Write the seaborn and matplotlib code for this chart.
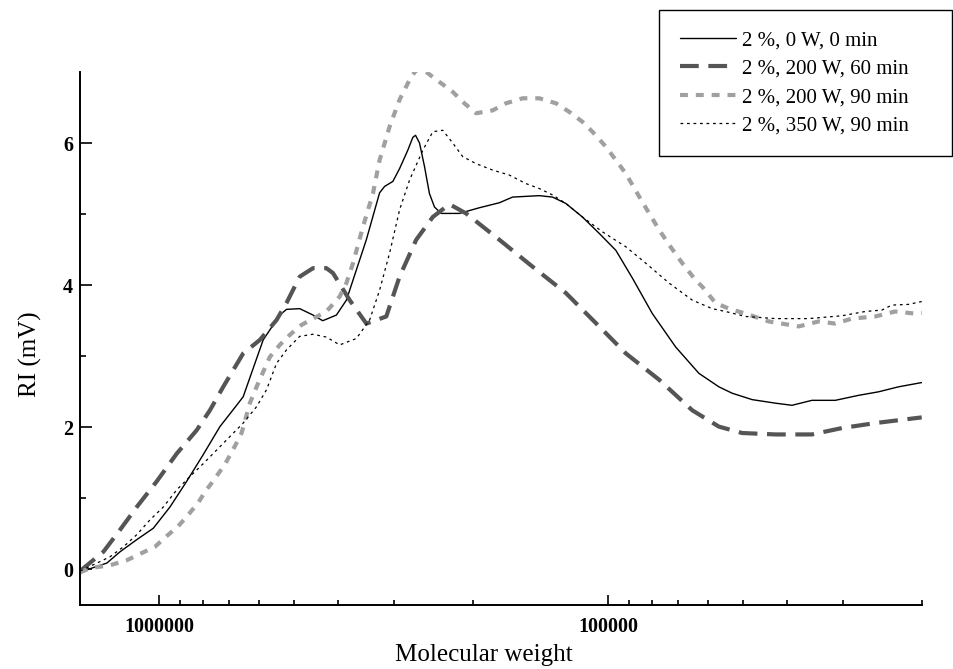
import numpy as np
import pandas as pd
import matplotlib
matplotlib.use("Agg")
import matplotlib.pyplot as plt
from matplotlib.ticker import FixedLocator, FixedFormatter, NullFormatter
import seaborn as sns

# ---------------- data ----------------
labels = ["2 %, 0 W, 0 min", "2 %, 200 W, 60 min", "2 %, 200 W, 90 min", "2 %, 350 W, 90 min"]

mw_0w = [1498000, 1473000, 1307000, 1221000, 1121000, 1030000, 945500, 868000, 798500, 732000,
         672000, 649700, 586400, 538400, 520300, 486200, 454100, 432100, 402800, 382700,
         376300, 345500, 322800, 314600, 301600, 291400, 279300, 272200, 268500, 263000,
         256400, 250000, 243600, 235400, 214400, 193500, 174700, 163200, 142300, 133000,
         124200, 114100, 104700, 96100, 88300, 79700, 70720, 62790, 56670, 52940,
         47790, 42400, 38950, 35160, 31190, 27690, 24990, 22560, 20030]
ri_0w = [-0.02, -0.02, 0.09, 0.25, 0.42, 0.58, 0.88, 1.24, 1.61, 2.01,
         2.31, 2.43, 3.23, 3.58, 3.66, 3.67, 3.58, 3.50, 3.58, 3.79,
         3.93, 4.64, 5.30, 5.39, 5.46, 5.64, 5.90, 6.08, 6.11, 6.00,
         5.67, 5.29, 5.10, 5.01, 5.01, 5.09, 5.16, 5.24, 5.26, 5.24,
         5.15, 4.96, 4.73, 4.49, 4.10, 3.60, 3.13, 2.76, 2.57, 2.48,
         2.39, 2.34, 2.31, 2.38, 2.38, 2.45, 2.50, 2.57, 2.63]

mw_200w60 = [1498000, 1330000, 1221000, 1121000, 1012000, 913500, 824500, 770500, 719700, 649700,
             596400, 547600, 520300, 486200, 454100, 424000, 409900, 376300, 345500, 311900,
             291400, 267500, 245700, 225600, 207200, 174700, 147300, 124200, 104700, 91300,
             77000, 64960, 56670, 50300, 42400, 35160, 30150, 25420, 20030]
ri_200w60 = [-0.02, 0.25, 0.56, 0.88, 1.24, 1.63, 1.96, 2.24, 2.57, 3.04,
             3.23, 3.51, 3.75, 4.12, 4.24, 4.24, 4.17, 3.79, 3.46, 3.56,
             4.12, 4.64, 4.96, 5.14, 5.01, 4.64, 4.26, 3.89, 3.42, 3.04,
             2.67, 2.24, 2.01, 1.92, 1.90, 1.90, 1.99, 2.06, 2.14]

mw_200w90 = [1498000, 1423000, 1285000, 1180000, 1102000, 1021000, 961500, 906000, 861000, 818000,
             790500, 751000, 713500, 683800, 655000, 627800, 606600, 586400, 566700, 538400,
             511700, 482000, 454100, 424000, 396100, 382700, 369900, 351600, 334000, 322800,
             306700, 291400, 276800, 267500, 254100, 237500, 221800, 210800, 196800, 180800,
             168800, 155000, 142300, 130700, 122100, 114100, 108400, 101200, 96100, 91300,
             83900, 77000, 73170, 68370, 63840, 61730, 57650, 53840, 49430, 43870,
             37640, 33980, 31190, 28650, 25420, 22950, 20720, 20030]
ri_200w90 = [-0.04, 0.02, 0.06, 0.13, 0.22, 0.32, 0.47, 0.61, 0.77, 0.94,
             1.09, 1.28, 1.48, 1.69, 1.92, 2.34, 2.57, 2.78, 2.99, 3.16,
             3.30, 3.44, 3.53, 3.63, 3.84, 4.03, 4.31, 4.82, 5.29, 5.76,
             6.23, 6.61, 6.89, 7.03, 7.00, 6.86, 6.72, 6.58, 6.42, 6.46,
             6.56, 6.63, 6.63, 6.56, 6.44, 6.30, 6.16, 5.95, 5.76, 5.57,
             5.17, 4.78, 4.57, 4.31, 4.07, 3.98, 3.75, 3.67, 3.60, 3.49,
             3.42, 3.49, 3.46, 3.53, 3.56, 3.63, 3.60, 3.61]

mw_350w90 = [1498000, 1375000, 1285000, 1200000, 1121000, 1047000, 978000, 913500, 853000, 797000,
             744600, 695500, 649700, 606600, 576300, 547600, 520300, 486200, 454100, 424000,
             396100, 363600, 339700, 322800, 306700, 291400, 276800, 258600, 245700, 233500,
             221800, 210800, 196800, 180800, 166000, 152400, 142300, 133000, 124200, 114100,
             102900, 91300, 82450, 73170, 64960, 58650, 54760, 49430, 42400, 35750,
             30150, 26760, 24570, 23350, 21440, 20030]
ri_350w90 = [-0.02, 0.09, 0.18, 0.32, 0.49, 0.70, 0.88, 1.12, 1.31, 1.49,
             1.68, 1.87, 2.06, 2.29, 2.53, 2.90, 3.09, 3.28, 3.31, 3.27,
             3.16, 3.25, 3.51, 3.93, 4.45, 5.06, 5.48, 5.90, 6.16, 6.18,
             6.00, 5.81, 5.71, 5.62, 5.55, 5.43, 5.36, 5.27, 5.15, 4.96,
             4.75, 4.54, 4.31, 4.03, 3.79, 3.67, 3.63, 3.56, 3.53, 3.53,
             3.57, 3.63, 3.65, 3.72, 3.73, 3.77]

x_major_ticks = [1000000, 100000]
x_major_labels = ["1000000", "100000"]
y_major_ticks = [0, 2, 4, 6]
y_minor_ticks = [1, 3, 5]

# ---------------- styling ----------------
sns.set_theme(style="white")
plt.rcParams["font.family"] = ["Liberation Serif", "DejaVu Serif"]

fig = plt.figure(figsize=(9.54, 6.69), dpi=100)
ax = fig.add_axes([80 / 954, 64 / 669, 842 / 954, 533 / 669])

series = [
    (mw_0w, ri_0w, dict(color="black", lw=1.0, linestyle="-")),
    (mw_200w60, ri_200w60, dict(color="#555555", lw=3.0, linestyle=(0, (4.5, 2.3)))),
    (mw_200w90, ri_200w90, dict(color="#a0a0a0", lw=3.0, linestyle=(0, (1.9, 1.9)))),
    (mw_350w90, ri_350w90, dict(color="black", lw=0.9, linestyle=(0, (2.2, 3.0)))),
]

handles = []
for (mx, ry, st), lab in zip(series, labels):
    df = pd.DataFrame({"mw": mx, "ri": ry})
    sns.lineplot(data=df, x="mw", y="ri", ax=ax, sort=False, estimator=None,
                 color=st["color"], linewidth=st["lw"], linestyle=st["linestyle"],
                 dash_capstyle="butt")
    handles.append(ax.get_lines()[-1])

ax.set_xscale("log")
ax.set_xlim(1.5e6, 2.0e4)
ax.set_ylim(-0.5, 7.0)

ax.xaxis.set_major_locator(FixedLocator(x_major_ticks))
ax.xaxis.set_major_formatter(FixedFormatter(x_major_labels))
minor = [m * 10 ** e for e in (4, 5) for m in range(2, 10)]
ax.xaxis.set_minor_locator(FixedLocator(minor))
ax.xaxis.set_minor_formatter(NullFormatter())

ax.yaxis.set_major_locator(FixedLocator(y_major_ticks))
ax.yaxis.set_minor_locator(FixedLocator(y_minor_ticks))
ax.set_yticklabels([str(v) for v in y_major_ticks])

for s in ["top", "right"]:
    ax.spines[s].set_visible(False)
for s in ["left", "bottom"]:
    ax.spines[s].set_color("black")
    ax.spines[s].set_linewidth(1.4)

ax.tick_params(axis="both", which="both", direction="in", color="black", width=1.2)
ax.tick_params(axis="y", which="major", length=8.5, pad=5)
ax.tick_params(axis="y", which="minor", length=4.5)
ax.tick_params(axis="x", which="major", length=7, pad=9)
ax.tick_params(axis="x", which="minor", length=3.6)
ax.tick_params(axis="x", which="both", bottom=True, top=False)
ax.tick_params(axis="y", which="both", left=True, right=False)
for t in ax.get_xticklabels() + ax.get_yticklabels():
    t.set_fontweight("bold")
    t.set_fontsize(14.5)
    t.set_color("black")

ax.set_xlabel("Molecular weight", fontsize=18, color="black")
ax.set_ylabel("RI (mV)", fontsize=18, color="black")
ax.xaxis.set_label_coords(0.48, -0.073)
ax.yaxis.set_label_coords(-0.045, 0.47)

leg_x0 = 659 / 954
leg_w = (952 - 659) / 954
leg = fig.legend(handles, labels, loc="upper left",
                 bbox_to_anchor=(leg_x0, 0.77, leg_w, 0.985 - 0.77), mode="expand",
                 frameon=True, fancybox=False, framealpha=1, edgecolor="black",
                 fontsize=15, handlelength=2.7, handletextpad=0.3,
                 borderpad=1.0, labelspacing=0.42, borderaxespad=0)
leg.get_frame().set_linewidth(1.0)
for t in leg.get_texts():
    t.set_color("black")

fig.savefig("out.png", dpi=100, facecolor="white")
